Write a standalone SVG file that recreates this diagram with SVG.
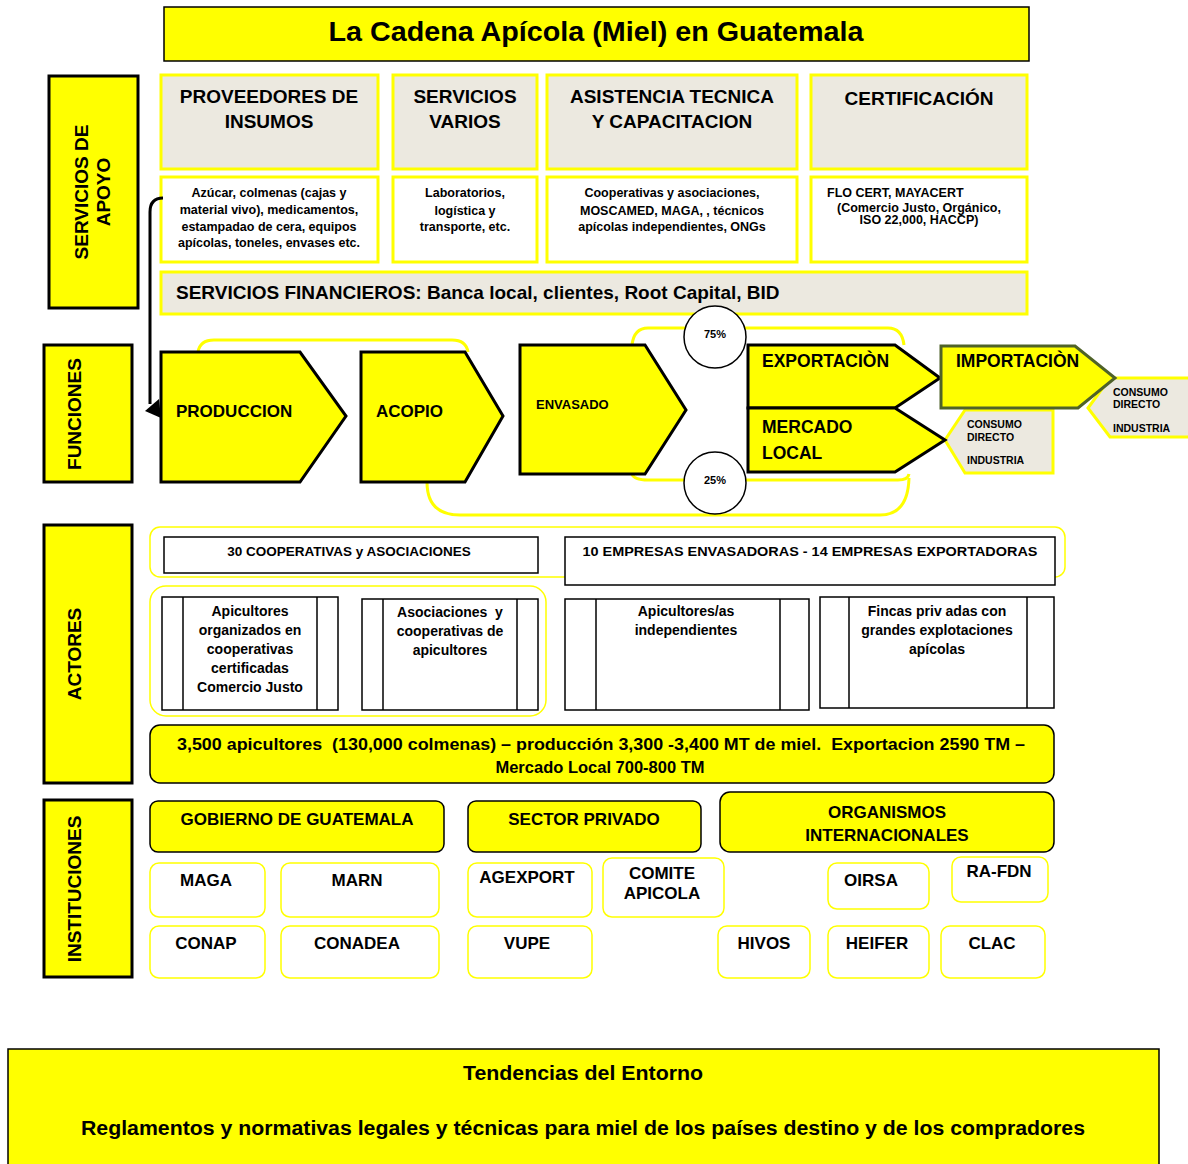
<svg xmlns="http://www.w3.org/2000/svg" width="1188" height="1164" viewBox="0 0 1188 1164">
<style>
  text { font-family: "Liberation Sans", Arial, sans-serif; font-weight: bold; fill: #000; white-space: pre; }
  .lbl { fill: #FFFF00; stroke: #000; stroke-width: 3; }
  .hdr { fill: #ECE9E0; stroke: #FFFF00; stroke-width: 3; }
  .det { fill: #FFFFFF; stroke: #FFFF00; stroke-width: 3; }
  .fn { fill: #FFFF00; stroke: #000; stroke-width: 3; stroke-linejoin: miter; }
  .cons { fill: #ECE9E0; stroke: #FFFF00; stroke-width: 3; }
  .act { fill: #FFFFFF; stroke: #000; stroke-width: 1.5; }
  .grp { fill: none; stroke: #FFFF00; stroke-width: 1.5; }
  .ybar { fill: #FFFF00; stroke: #000; stroke-width: 1.5; }
  .inst { fill: #FFFFFF; stroke: #FFFF00; stroke-width: 1.5; }
  .arc { fill: none; stroke: #FFFF00; stroke-width: 3; }
  .c { text-anchor: middle; }
  .h19 { font-size: 19px; }
  .d12 { font-size: 12.5px; }
  .a14 { font-size: 14px; }
  .i17 { font-size: 17px; }
  .v18 { font-size: 19px; }
</style>

<!-- title -->
<g id="title">
  <rect x="164" y="7" width="865" height="54" class="ybar" stroke-width="2"/>
  <text x="596" y="41" class="c" font-size="28" textLength="535" lengthAdjust="spacingAndGlyphs">La Cadena Apícola (Miel) en Guatemala</text>
</g>

<!-- row labels -->
<g id="lbl-servicios">
  <rect x="49" y="76" width="89" height="232" class="lbl"/>
  <text transform="translate(88 192) rotate(-90)" class="c v18">SERVICIOS DE</text>
  <text transform="translate(110 192) rotate(-90)" class="c v18">APOYO</text>
</g>
<g id="lbl-funciones">
  <rect x="44" y="345" width="88" height="137" class="lbl"/>
  <text transform="translate(81 414) rotate(-90)" class="c v18">FUNCIONES</text>
</g>
<g id="lbl-actores">
  <rect x="44" y="525" width="88" height="258" class="lbl"/>
  <text transform="translate(81 654) rotate(-90)" class="c v18">ACTORES</text>
</g>
<g id="lbl-instituciones">
  <rect x="44" y="800" width="88" height="177" class="lbl"/>
  <text transform="translate(81 889) rotate(-90)" class="c v18">INSTITUCIONES</text>
</g>

<!-- support services -->
<g id="proveedores">
  <rect x="161" y="75" width="217" height="94" class="hdr"/>
  <text x="269" y="103" class="c h19">PROVEEDORES DE</text>
  <text x="269" y="128" class="c h19">INSUMOS</text>
  <rect x="161" y="177" width="217" height="85" class="det"/>
  <text x="269" y="197" class="c d12">Azúcar, colmenas (cajas y</text>
  <text x="269" y="214" class="c d12">material vivo), medicamentos,</text>
  <text x="269" y="231" class="c d12">estampadao de cera, equipos</text>
  <text x="269" y="247" class="c d12">apícolas, toneles, envases etc.</text>
</g>
<g id="servicios-varios">
  <rect x="393" y="75" width="144" height="94" class="hdr"/>
  <text x="465" y="103" class="c h19">SERVICIOS</text>
  <text x="465" y="128" class="c h19">VARIOS</text>
  <rect x="393" y="177" width="144" height="85" class="det"/>
  <text x="465" y="197" class="c d12">Laboratorios,</text>
  <text x="465" y="215" class="c d12">logística y</text>
  <text x="465" y="231" class="c d12">transporte, etc.</text>
</g>
<g id="asistencia">
  <rect x="547" y="75" width="250" height="94" class="hdr"/>
  <text x="672" y="103" class="c h19">ASISTENCIA TECNICA</text>
  <text x="672" y="128" class="c h19">Y CAPACITACION</text>
  <rect x="547" y="177" width="250" height="85" class="det"/>
  <text x="672" y="197" class="c d12">Cooperativas y asociaciones,</text>
  <text x="672" y="215" class="c d12">MOSCAMED, MAGA, , técnicos</text>
  <text x="672" y="231" class="c d12">apícolas independientes, ONGs</text>
</g>
<g id="certificacion">
  <rect x="811" y="75" width="216" height="94" class="hdr"/>
  <text x="919" y="105" class="c h19">CERTIFICACIÓN</text>
  <rect x="811" y="177" width="216" height="85" class="det"/>
  <text x="827" y="197" class="d12">FLO CERT, MAYACERT</text>
  <text x="919" y="212" class="c d12">(Comercio Justo, Orgánico,</text>
  <text x="919" y="224" class="c d12">ISO 22,000, HACCP)</text>
</g>
<g id="financieros">
  <rect x="161" y="272" width="866" height="42" class="hdr"/>
  <text x="176" y="299" class="h19">SERVICIOS FINANCIEROS: Banca local, clientes, Root Capital, BID</text>
</g>

<!-- connectors -->
<g id="connectors">
  <path d="M 163 198 Q 150 198 150 212 L 150 404" fill="none" stroke="#000" stroke-width="3"/>
  <polygon points="145,411 159,399 161,418" fill="#000"/>
  <path class="arc" d="M 198 352 Q 200 340 214 340 L 452 340 Q 466 340 468 352"/>
  <path class="arc" d="M 427 482 Q 427 515 460 515 L 880 515 Q 908 515 909 478"/>
  <path class="arc" d="M 632 345 Q 634 328 648 328 L 888 328 Q 902 328 904 345"/>
  <path class="arc" d="M 632 474 Q 634 480 648 480 L 898 480 Q 908 480 909 474"/>
</g>

<!-- functions -->
<g id="produccion">
  <polygon points="161,352 300,352 346,416 300,482 161,482" class="fn"/>
  <text x="176" y="417" font-size="17">PRODUCCION</text>
</g>
<g id="acopio">
  <polygon points="361,352 465,352 503,416 465,482 361,482" class="fn"/>
  <text x="376" y="417" font-size="17">ACOPIO</text>
</g>
<g id="envasado">
  <polygon points="520,345 645,345 686,410 645,474 520,474" class="fn"/>
  <text x="536" y="409" font-size="13">ENVASADO</text>
</g>
<g id="pct75">
  <circle cx="715" cy="337" r="31" fill="#FFFFFF" stroke="#000" stroke-width="1.5"/>
  <text x="715" y="338" class="c" font-size="11">75%</text>
</g>
<g id="pct25">
  <circle cx="715" cy="483" r="31" fill="#FFFFFF" stroke="#000" stroke-width="1.5"/>
  <text x="715" y="484" class="c" font-size="11">25%</text>
</g>
<g id="consumo-local">
  <polygon points="965,410 1053,410 1053,473 965,473 945,440" class="cons"/>
  <text x="967" y="428" font-size="10.5">CONSUMO</text>
  <text x="967" y="441" font-size="10.5">DIRECTO</text>
  <text x="967" y="464" font-size="10.5">INDUSTRIA</text>
</g>
<g id="consumo-import">
  <polygon points="1110,378 1190,378 1190,437 1110,437 1088,408" class="cons"/>
  <text x="1113" y="396" font-size="10.5">CONSUMO</text>
  <text x="1113" y="408" font-size="10.5">DIRECTO</text>
  <text x="1113" y="432" font-size="10.5">INDUSTRIA</text>
</g>
<g id="exportacion">
  <polygon points="748,345 895,345 940,378 895,408 748,408" class="fn"/>
  <text x="762" y="367" font-size="17.5">EXPORTACIÒN</text>
</g>
<g id="mercado-local">
  <polygon points="748,408 895,408 945,440 895,472 748,472" class="fn"/>
  <text x="762" y="433" font-size="17.5">MERCADO</text>
  <text x="762" y="459" font-size="17.5">LOCAL</text>
</g>
<g id="importacion">
  <polygon points="941,346 1075,346 1115,378 1078,408 941,408" fill="#FFFF00" stroke="#4F6228" stroke-width="3"/>
  <text x="956" y="367" font-size="17.5">IMPORTACIÒN</text>
</g>

<!-- actors -->
<g id="grp-organizaciones">
  <rect x="150" y="527" width="915" height="50" rx="10" class="grp"/>
</g>
<g id="cooperativas">
  <rect x="164" y="537" width="374" height="36" class="act"/>
  <text x="349" y="556" class="c" font-size="13.5">30 COOPERATIVAS y ASOCIACIONES</text>
</g>
<g id="empresas">
  <rect x="565" y="537" width="490" height="48" class="act"/>
  <text x="810" y="556" class="c" font-size="13.5" textLength="455" lengthAdjust="spacingAndGlyphs">10 EMPRESAS ENVASADORAS - 14 EMPRESAS EXPORTADORAS</text>
</g>
<g id="grp-organizados">
  <rect x="150" y="586" width="396" height="130" rx="16" class="grp"/>
</g>
<g id="apicultores-org">
  <rect x="162" y="597" width="176" height="113" class="act"/>
  <line x1="183" y1="597" x2="183" y2="710" stroke="#000" stroke-width="1.5"/>
  <line x1="317" y1="597" x2="317" y2="710" stroke="#000" stroke-width="1.5"/>
  <text x="250" y="616" class="c a14">Apicultores</text>
  <text x="250" y="635" class="c a14">organizados en</text>
  <text x="250" y="654" class="c a14">cooperativas</text>
  <text x="250" y="673" class="c a14">certificadas</text>
  <text x="250" y="692" class="c a14">Comercio Justo</text>
</g>
<g id="asociaciones">
  <rect x="362" y="599" width="176" height="111" class="act"/>
  <line x1="383" y1="599" x2="383" y2="710" stroke="#000" stroke-width="1.5"/>
  <line x1="517" y1="599" x2="517" y2="710" stroke="#000" stroke-width="1.5"/>
  <text x="450" y="617" class="c a14">Asociaciones  y</text>
  <text x="450" y="636" class="c a14">cooperativas de</text>
  <text x="450" y="655" class="c a14">apicultores</text>
</g>
<g id="independientes">
  <rect x="565" y="599" width="244" height="111" class="act"/>
  <line x1="596" y1="599" x2="596" y2="710" stroke="#000" stroke-width="1.5"/>
  <line x1="780" y1="599" x2="780" y2="710" stroke="#000" stroke-width="1.5"/>
  <text x="686" y="616" class="c a14">Apicultores/as</text>
  <text x="686" y="635" class="c a14">independientes</text>
</g>
<g id="fincas">
  <rect x="820" y="597" width="234" height="111" class="act"/>
  <line x1="849" y1="597" x2="849" y2="708" stroke="#000" stroke-width="1.5"/>
  <line x1="1027" y1="597" x2="1027" y2="708" stroke="#000" stroke-width="1.5"/>
  <text x="937" y="616" class="c a14">Fincas priv adas con</text>
  <text x="937" y="635" class="c a14">grandes explotaciones</text>
  <text x="937" y="654" class="c a14">apícolas</text>
</g>
<g id="estadisticas">
  <rect x="150" y="725" width="904" height="58" rx="10" class="ybar"/>
  <text x="601" y="750" class="c" font-size="16.5" textLength="848" lengthAdjust="spacingAndGlyphs">3,500 apicultores  (130,000 colmenas) – producción 3,300 -3,400 MT de miel.  Exportacion 2590 TM –</text>
  <text x="600" y="773" class="c" font-size="16.5">Mercado Local 700-800 TM</text>
</g>

<!-- institutions -->
<g id="gobierno">
  <rect x="150" y="801" width="294" height="51" rx="8" class="ybar"/>
  <text x="297" y="825" class="c i17">GOBIERNO DE GUATEMALA</text>
</g>
<g id="privado">
  <rect x="468" y="801" width="233" height="51" rx="8" class="ybar"/>
  <text x="584" y="825" class="c i17">SECTOR PRIVADO</text>
</g>
<g id="internacionales">
  <rect x="720" y="792" width="334" height="60" rx="10" class="ybar"/>
  <text x="887" y="818" class="c i17">ORGANISMOS</text>
  <text x="887" y="841" class="c i17">INTERNACIONALES</text>
</g>
<g id="maga"><rect x="150" y="863" width="115" height="54" rx="9" class="inst"/><text x="206" y="886" class="c i17">MAGA</text></g>
<g id="marn"><rect x="281" y="863" width="158" height="54" rx="9" class="inst"/><text x="357" y="886" class="c i17">MARN</text></g>
<g id="agexport"><rect x="468" y="863" width="124" height="54" rx="9" class="inst"/><text x="527" y="883" class="c i17">AGEXPORT</text></g>
<g id="comite"><rect x="603" y="858" width="121" height="59" rx="9" class="inst"/><text x="662" y="879" class="c i17">COMITE</text><text x="662" y="899" class="c i17">APICOLA</text></g>
<g id="oirsa"><rect x="828" y="863" width="101" height="46" rx="9" class="inst"/><text x="871" y="886" class="c i17">OIRSA</text></g>
<g id="ra-fdn"><rect x="952" y="857" width="96" height="45" rx="9" class="inst"/><text x="999" y="877" class="c i17">RA-FDN</text></g>
<g id="conap"><rect x="150" y="926" width="115" height="52" rx="9" class="inst"/><text x="206" y="949" class="c i17">CONAP</text></g>
<g id="conadea"><rect x="281" y="926" width="158" height="52" rx="9" class="inst"/><text x="357" y="949" class="c i17">CONADEA</text></g>
<g id="vupe"><rect x="468" y="926" width="124" height="52" rx="9" class="inst"/><text x="527" y="949" class="c i17">VUPE</text></g>
<g id="hivos"><rect x="718" y="926" width="92" height="52" rx="9" class="inst"/><text x="764" y="949" class="c i17">HIVOS</text></g>
<g id="heifer"><rect x="828" y="926" width="101" height="52" rx="9" class="inst"/><text x="877" y="949" class="c i17">HEIFER</text></g>
<g id="clac"><rect x="941" y="926" width="104" height="52" rx="9" class="inst"/><text x="992" y="949" class="c i17">CLAC</text></g>

<!-- environment trends -->
<g id="tendencias">
  <rect x="8" y="1049" width="1151" height="125" class="ybar" stroke-width="2"/>
  <text x="583" y="1080" class="c" font-size="20" textLength="240" lengthAdjust="spacingAndGlyphs">Tendencias del Entorno</text>
  <text x="583" y="1135" class="c" font-size="20" textLength="1004" lengthAdjust="spacingAndGlyphs">Reglamentos y normativas legales y técnicas para miel de los países destino y de los compradores</text>
</g>
</svg>
